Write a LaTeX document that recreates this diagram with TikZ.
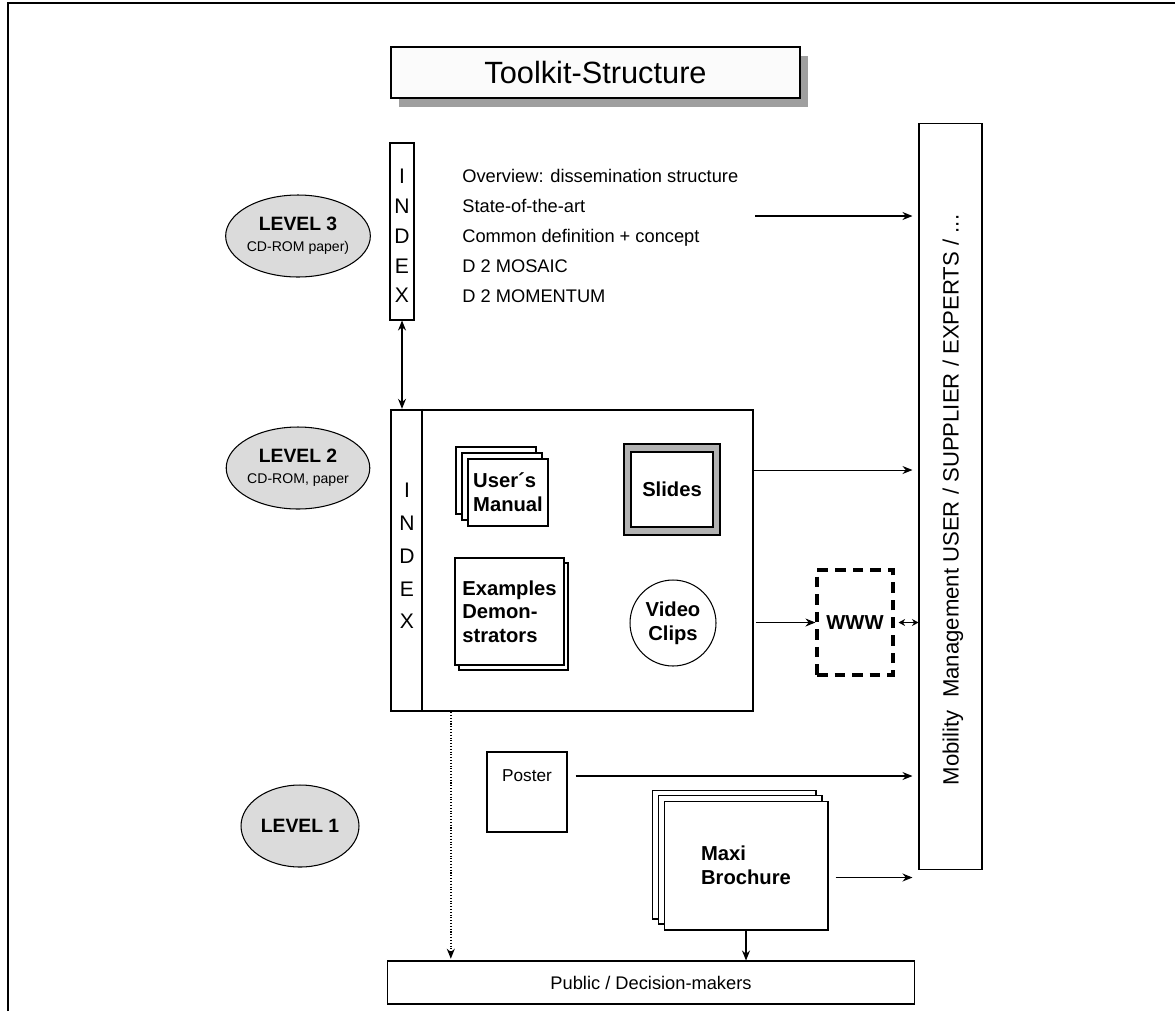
\documentclass[tikz,border=0pt]{standalone}
\usepackage{fontspec}
\setmainfont{Liberation Sans}
\usetikzlibrary{arrows.meta,positioning,shapes.geometric,shadows,calc}

\begin{document}
\begin{tikzpicture}[x=0.02cm,y=-0.02cm,
  lvl/.style={draw,ellipse,fill=gray!28,line width=0.6pt,minimum width=2.36cm,minimum height=1.64cm,
              align=center,inner sep=0pt},
  sheet/.style={draw,rectangle,fill=white,line width=0.6pt,align=left,inner sep=0pt,
                font=\bfseries\fontsize{11.5}{13.5}\selectfont},
  idx/.style={align=center,inner sep=0pt,font=\fontsize{12}{17}\selectfont},
  arr/.style={-{Stealth[length=2mm,width=1.6mm]},line width=0.6pt},
  darr/.style={{Stealth[length=2mm,width=1.6mm]}-{Stealth[length=2mm,width=1.6mm]},line width=0.6pt}
]
\useasboundingbox (0,0) rectangle (1175,1011);

% Frame
\draw[line width=1.2pt] (8,1011) -- (8,3) -- (1175,3);

% Title
\node[draw,fill=gray!3,line width=0.8pt,minimum width=8.18cm,minimum height=1.02cm,
      font=\fontsize{17.5}{20}\selectfont,
      drop shadow={shadow xshift=0.16cm,shadow yshift=-0.18cm,fill=gray!75,opacity=1}]
      (title) at (595.5,72.5) {Toolkit-Structure};

% Levels
\node[lvl] (lv3) at (298,236) {{\bfseries\fontsize{11}{13}\selectfont LEVEL 3}\\{\fontsize{8}{10}\selectfont CD-ROM paper)}};
\node[lvl] (lv2) at (298,468) {{\bfseries\fontsize{11}{13}\selectfont LEVEL 2}\\{\fontsize{8}{10}\selectfont CD-ROM, paper}};
\node[lvl] (lv1) at (300,826) {{\bfseries\fontsize{11}{13}\selectfont LEVEL 1}};

% Level 3: index and documents
\node[draw,line width=0.6pt,minimum width=0.48cm,minimum height=3.54cm,inner sep=0pt] (idx3) at (402,231.5) {};
\node[idx] (idx3t) at (402,236) {I\\N\\D\\E\\X};
\node[anchor=west,align=left,inner sep=0pt,font=\fontsize{10.4}{17}\selectfont] (docs) at (462,236)
  {Overview: dissemination structure\\State-of-the-art\\Common definition + concept\\D 2 MOSAIC\\D 2 MOMENTUM};

% Target group
\node[draw,line width=0.6pt,minimum width=1.26cm,minimum height=14.94cm,inner sep=0pt] (aud) at (950.5,496.5) {};
\node[rotate=90,font=\fontsize{12.6}{14}\selectfont] (audt) at (953,500)
  {Mobility~ Management USER / SUPPLIER / EXPERTS / ...};

% Level 2 box
\node[draw,line width=1.4pt,minimum width=7.24cm,minimum height=6.02cm,inner sep=0pt] (big) at (572,560.5) {};
\draw[line width=0.8pt] ($(big.north west)+(32,0)$) -- ($(big.south west)+(32,0)$);
\node[idx,font=\fontsize{12}{18.7}\selectfont] (idx2t) at (407,556) {I\\N\\D\\E\\X};

% User's manual
\node[sheet,minimum width=1.6cm,minimum height=1.34cm] (man3) at (496,480.5) {};
\node[sheet,minimum width=1.6cm,minimum height=1.34cm] (man2) at (502,486.5) {};
\node[sheet,minimum width=1.6cm,minimum height=1.34cm] (man) at (508,492.5) {User´s\\Manual};

% Slides
\node[draw,fill=gray!60,line width=0.6pt,minimum width=1.92cm,minimum height=1.82cm] (slf) at (672,489.5) {};
\node[sheet,minimum width=1.64cm,minimum height=1.5cm,align=center] (sl) at (672,489.5) {Slides};

% Examples
\node[sheet,minimum width=2.18cm,minimum height=2.14cm] (ex2) at (513.5,616.5) {};
\node[sheet,minimum width=2.18cm,minimum height=2.14cm] (ex) at (509.5,611.5) {Examples\\Demon-\\strators};

% Video clips
\node[sheet,circle,minimum size=1.72cm,align=center] (vid) at (673,623) {Video\\Clips};

% WWW
\node[draw,dashed,dash pattern=on 6pt off 4pt,line width=1.8pt,minimum width=1.52cm,minimum height=2.1cm,
      font=\bfseries\fontsize{11.5}{13.5}\selectfont] (www) at (855,622.5) {WWW};

% Level 1
\node[draw,line width=0.6pt,minimum size=1.6cm,
      label={[anchor=center,yshift=0.32cm,font=\fontsize{9.8}{11}\selectfont]center:Poster}] (post) at (527,792) {};
\node[sheet,minimum width=3.28cm,minimum height=2.58cm] (mx3) at (734,854.5) {};
\node[sheet,minimum width=3.28cm,minimum height=2.58cm] (mx2) at (740,859.5) {};
\node[sheet,minimum width=3.28cm,minimum height=2.58cm] (mx) at (746,865.5) {Maxi\\Brochure};

% Public
\node[draw,line width=0.6pt,minimum width=10.56cm,minimum height=0.86cm,
      font=\fontsize{10.4}{12}\selectfont] (pub) at (651,982.5) {Public / Decision-makers};

% Arrows
\draw[darr] (idx3.south) -- (idx3.south |- big.north);
\coordinate (a3) at (755,216);
\draw[arr,shorten >=0.12cm] (a3) -- (a3 -| aud.west);
\draw[arr,shorten >=0.12cm] ([yshift=1.81cm]big.east) -- ([yshift=1.81cm]big.east -| aud.west);
\draw[arr,shorten <=1pt] (big.east |- www.west) -- (www.west);
\draw[{Stealth[length=1.3mm,width=1.4mm]}-{Stealth[length=1.3mm,width=1.4mm]},line width=0.6pt]
  ([xshift=0.08cm]www.east) -- (www.east -| aud.west);
\draw[arr,shorten >=0.12cm] ([xshift=0.16cm,yshift=0.32cm]post.east) -- ([yshift=0.32cm]post.east -| aud.west);
\draw[arr,shorten >=0.12cm] ([xshift=0.14cm,yshift=-0.24cm]mx.east) -- ([yshift=-0.24cm]mx.east -| aud.west);
\draw[arr] (mx.south) -- (mx.south |- pub.north);
\coordinate (dt) at ($(big.south west)+(61,0)$);
\draw[arr,densely dotted,line width=0.8pt,shorten >=1pt] (dt) -- (dt |- pub.north);

\end{tikzpicture}
\end{document}
